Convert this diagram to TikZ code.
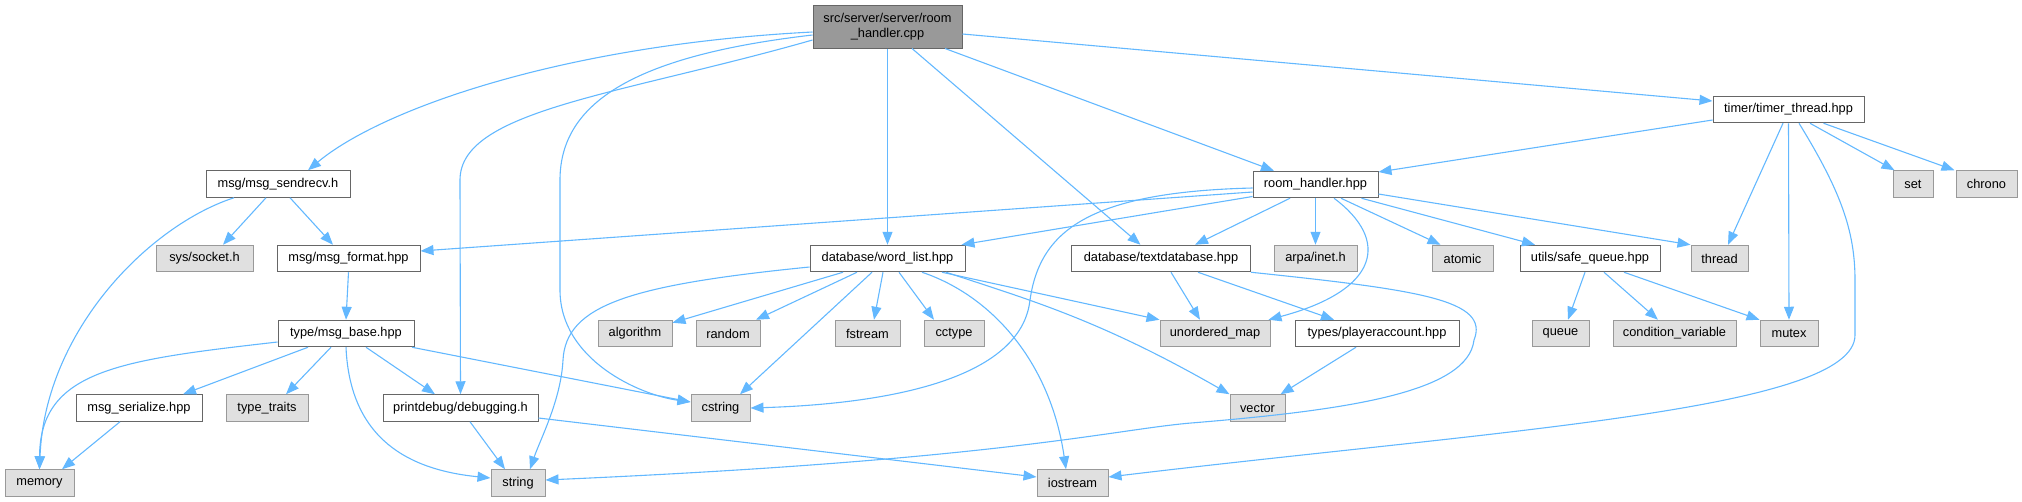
\documentclass[tikz,border=0pt]{standalone}
\usepackage{fontspec}
\setmainfont{Liberation Sans}
\usetikzlibrary{arrows.meta}
\definecolor{edgec}{HTML}{63B8FF}
\definecolor{bordw}{HTML}{666666}
\definecolor{bordg}{HTML}{999999}
\definecolor{fillg}{HTML}{E0E0E0}
\definecolor{rootfill}{HTML}{999999}
\begin{document}
\begin{tikzpicture}[x=1pt,y=-1pt,
  box/.style={draw=bordw, fill=white, line width=1pt, inner sep=0pt, minimum height=26.5pt, font=\fontsize{12.8}{15}\selectfont},
  sys/.style={box, draw=bordg, fill=fillg},
  edge/.style={draw=edgec, line width=1.1pt, -{Triangle[length=13pt,width=10pt]}}]
\useasboundingbox (0,0) rectangle (2022,501);
% row 0
\node[box, fill=rootfill, minimum width=149pt, minimum height=43pt, align=center] (root) at (887.5,26.5) {src/server/server/room\\\_handler.cpp};
% row 1
\node[box, minimum width=151pt] (timer) at (1788.5,109.5) {timer/timer\_thread.hpp};
% row 2
\node[box, minimum width=144pt] (msgsend) at (278,184) {msg/msg\_sendrecv.h};
\node[box, minimum width=125pt] (rhhpp) at (1315.5,184.5) {room\_handler.hpp};
\node[sys, minimum width=40pt] (set) at (1913,184) {set};
\node[sys, minimum width=61pt] (chrono) at (1986.5,184) {chrono};
% row 3
\node[sys, minimum width=97pt] (socket) at (204.5,258.5) {sys/socket.h};
\node[box, minimum width=143pt] (msgfmt) at (348.5,258.5) {msg/msg\_format.hpp};
\node[box, minimum width=155pt] (wordlist) at (887.5,258.5) {database/word\_list.hpp};
\node[box, minimum width=179pt] (textdb) at (1161,258.5) {database/textdatabase.hpp};
\node[sys, minimum width=83pt] (arpa) at (1315.5,258.5) {arpa/inet.h};
\node[sys, minimum width=61pt] (atomic) at (1462.5,258.5) {atomic};
\node[box, minimum width=140pt] (safeq) at (1590,258.5) {utils/safe\_queue.hpp};
\node[sys, minimum width=57pt] (thread) at (1719.5,258.5) {thread};
% row 4
\node[box, minimum width=136pt] (msgbase) at (346,333.5) {type/msg\_base.hpp};
\node[sys, minimum width=74pt] (algorithm) at (635,333.5) {algorithm};
\node[sys, minimum width=64pt] (random) at (728,333.5) {random};
\node[sys, minimum width=65pt] (fstream) at (867.5,333.5) {fstream};
\node[sys, minimum width=60pt] (cctype) at (954,333.5) {cctype};
\node[sys, minimum width=110pt] (umap) at (1215,333.5) {unordered\_map};
\node[box, minimum width=164pt] (player) at (1377,333.5) {types/playeraccount.hpp};
\node[sys, minimum width=57pt] (queue) at (1560.5,333.5) {queue};
\node[sys, minimum width=123pt] (condvar) at (1674.5,333.5) {condition\_variable};
\node[sys, minimum width=58pt] (mutex) at (1789,333.5) {mutex};
% row 5
\node[box, minimum width=126pt] (msgser) at (139,408) {msg\_serialize.hpp};
\node[sys, minimum width=82pt] (typetraits) at (267,408) {type\_traits};
\node[box, minimum width=155pt] (debugging) at (460.5,408) {printdebug/debugging.h};
\node[sys, minimum width=59pt] (cstring) at (720.5,408) {cstring};
\node[sys, minimum width=55pt] (vector) at (1257.5,408) {vector};
% row 6
\node[sys, minimum width=69pt] (memory) at (39.5,483) {memory};
\node[sys, minimum width=54pt] (string) at (518,483) {string};
\node[sys, minimum width=71pt] (iostream) at (1072.5,483) {iostream};
% edges from root
\draw[edge] ([yshift=-5.5pt]root.west) .. controls (560,45) and (380,110) .. ([xshift=30pt]msgsend.north);
\draw[edge] ([yshift=-13.5pt]root.west) .. controls (620,95) and (460,110) .. (460,180) -- (debugging.north);
\draw[edge] ([yshift=-8.5pt]root.west) .. controls (640,55) and (560,100) .. (560,180) -- (560,290) .. controls (560,360) and (640,395) .. ([yshift=6pt]cstring.west);
\draw[edge] (root.south) -- (wordlist.north);
\draw[edge] ([xshift=24.5pt]root.south) -- ([xshift=-20.5pt]textdb.north);
\draw[edge] ([xshift=57.5pt]root.south) -- ([xshift=-41.5pt]rhhpp.north);
\draw[edge] ([yshift=-7.5pt]root.east) -- ([yshift=8.5pt]timer.west);
% timer
\draw[edge] ([yshift=-10.5pt]timer.west) -- ([yshift=12.5pt]rhhpp.east);
\draw[edge] ([xshift=-5.5pt]timer.south) -- ([xshift=8.5pt]thread.north);
\draw[edge] (timer.south) -- (mutex.north);
\draw[edge] ([xshift=10.5pt]timer.south) .. controls (1840,190) and (1855,230) .. (1855,280) -- (1855,335) .. controls (1855,410) and (1500,430) .. ([yshift=6pt]iostream.east);
\draw[edge] ([xshift=21.5pt]timer.south) -- ([xshift=2pt]set.north west);
\draw[edge] ([xshift=35pt]timer.south) -- ([xshift=-1pt]chrono.north west);
% room_handler.hpp
\draw[edge] ([yshift=-7.5pt]rhhpp.west) -- ([yshift=7.5pt]msgfmt.east);
\draw[edge] ([yshift=-12pt]rhhpp.west) -- ([xshift=-4pt]wordlist.north east);
\draw[edge] ([yshift=-3.5pt]rhhpp.west) .. controls (1090,192) and (1040,230) .. (1030,300) .. controls (1020,390) and (850,405) .. (cstring.east);
\draw[edge] ([xshift=-25.5pt]rhhpp.south) -- ([xshift=34pt]textdb.north);
\draw[edge] (rhhpp.south) -- (arpa.north);
\draw[edge] ([xshift=18.5pt]rhhpp.south) .. controls (1390,240) and (1380,290) .. ([xshift=-2pt]umap.north east);
\draw[edge] ([xshift=25.5pt]rhhpp.south) -- ([xshift=-22pt]atomic.north);
\draw[edge] ([xshift=46pt]rhhpp.south) -- ([xshift=-55pt]safeq.north);
\draw[edge] ([yshift=-9.5pt]rhhpp.east) -- (thread.north west);
% safe_queue
\draw[edge] ([xshift=-5pt]safeq.south) -- ([xshift=7.5pt]queue.north);
\draw[edge] ([xshift=14pt]safeq.south) -- ([xshift=-16.5pt]condvar.north);
\draw[edge] ([xshift=34pt]safeq.south) -- (mutex.north west);
% msg_sendrecv
\draw[edge] ([xshift=-44pt]msgsend.south) .. controls (150,225) and (45,330) .. (memory.north);
\draw[edge] ([xshift=-12pt]msgsend.south) -- ([xshift=18.5pt]socket.north);
\draw[edge] ([xshift=12pt]msgsend.south) -- ([xshift=-15.5pt]msgfmt.north);
\draw[edge] (msgfmt.south) -- (msgbase.north);
% msg_base
\draw[edge] ([yshift=-8.5pt]msgbase.west) .. controls (120,360) and (40,370) .. (memory.north);
\draw[edge] ([xshift=-38pt]msgbase.south) -- ([xshift=44pt]msgser.north);
\draw[edge] ([xshift=-15pt]msgbase.south) -- ([xshift=19pt]typetraits.north);
\draw[edge] (msgbase.south) .. controls (350,440) and (410,470) .. ([yshift=5pt]string.west);
\draw[edge] ([xshift=20pt]msgbase.south) -- ([xshift=-25.5pt]debugging.north);
\draw[edge] ([xshift=66pt]msgbase.south) -- ([yshift=6pt]cstring.west);
% debugging, serialize
\draw[edge] ([xshift=9.5pt]debugging.south) -- ([xshift=-13pt]string.north);
\draw[edge] ([yshift=-10pt]debugging.east) -- ([yshift=6pt]iostream.west);
\draw[edge] ([xshift=-19pt]msgser.south) -- ([xshift=22.5pt]memory.north);
% word_list
\draw[edge] ([yshift=-8.5pt]wordlist.west) .. controls (630,285) and (566,305) .. (563,360) .. controls (561,400) and (540,440) .. ([xshift=12pt]string.north);
\draw[edge] ([xshift=-44.5pt]wordlist.south) -- ([yshift=-3pt]algorithm.north east);
\draw[edge] ([xshift=-30.5pt]wordlist.south) -- ([xshift=28pt]random.north);
\draw[edge] ([xshift=-15.5pt]wordlist.south) -- ([xshift=19.5pt]cstring.north);
\draw[edge] ([xshift=-4.5pt]wordlist.south) -- ([xshift=6.5pt]fstream.north);
\draw[edge] ([xshift=11.5pt]wordlist.south) -- ([xshift=-20pt]cctype.north);
\draw[edge] ([xshift=34.5pt]wordlist.south) .. controls (990,295) and (1050,360) .. ([xshift=-6.5pt]iostream.north);
\draw[edge] ([xshift=54.5pt]wordlist.south) -- (umap.north west);
\draw[edge] ([xshift=58.5pt]wordlist.south) .. controls (1030,300) and (1100,320) .. (vector.north west);
% textdatabase
\draw[edge] ([xshift=10pt]textdb.south) -- ([xshift=-15pt]umap.north);
\draw[edge] ([xshift=37pt]textdb.south) -- ([xshift=-43pt]player.north);
\draw[edge] (textdb.south east) .. controls (1420,290) and (1490,300) .. (1474,340) .. controls (1468,392) and (1350,410) .. (1191,423) .. controls (1110,430) and (1000,460) .. ([yshift=3pt]string.east);
% playeraccount
\draw[edge] ([xshift=-21pt]player.south) -- ([xshift=-5pt]vector.north east);
\end{tikzpicture}
\end{document}
